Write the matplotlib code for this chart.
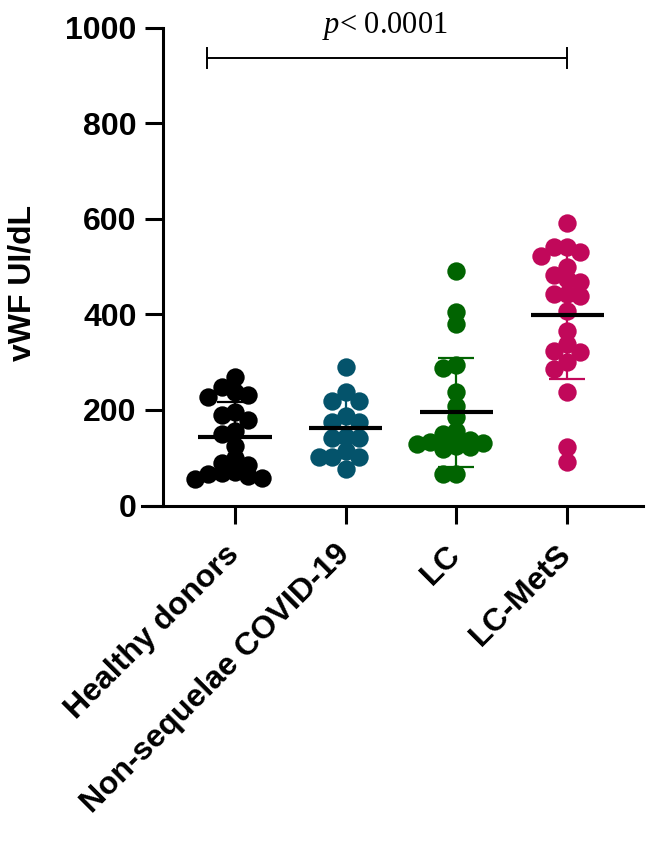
import numpy as np
import matplotlib
matplotlib.use("Agg")
import matplotlib.pyplot as plt

plt.rcParams["font.family"] = ["Liberation Sans", "DejaVu Sans"]
plt.rcParams["font.weight"] = "bold"
plt.rcParams["mathtext.fontset"] = "custom"
plt.rcParams["mathtext.rm"] = "Liberation Serif:normal"
plt.rcParams["mathtext.it"] = "Liberation Serif:italic:normal"

# ── data (vWF, UI/dL) ─────────────────────────────────────────────────────────
groups = ["Healthy donors", "Non-sequelae COVID-19", "LC", "LC-MetS"]
colors = ["#000000", "#04536B", "#016401", "#C1085A"]

healthy = [269, 248, 237, 232, 228, 195, 190, 180, 155, 150,
           125, 100, 90, 85, 70, 68, 62, 58, 56, 65]
non_sequelae = [290, 237, 219, 219, 188, 175, 174, 144, 142, 142,
                115, 102, 102, 102, 77]
lc = [490, 404, 379, 295, 288, 237, 208, 185, 156, 150, 140,
      138, 135, 133, 130, 125, 122, 118, 128, 67, 65]
lc_mets = [592, 540, 540, 531, 521, 500, 483, 473, 467, 442, 442,
           438, 406, 365, 338, 321, 323, 300, 285, 237, 123, 92]
values = [healthy, non_sequelae, lc, lc_mets]

p_label = "$p$< 0.0001"


def swarm_offsets(vals, step=0.12, min_dy=22.0):
    """Column-based swarm: place each point in the nearest free column."""
    order = np.argsort(vals)[::-1]
    placed = {}
    offs = np.zeros(len(vals))
    for i in order:
        v = vals[i]
        for k in [0, -1, 1, -2, 2, -3, 3, -4, 4]:
            col = placed.setdefault(k, [])
            if all(abs(v - u) >= min_dy for u in col):
                col.append(v)
                offs[i] = k * step
                break
    return offs


fig = plt.figure(figsize=(6.62, 8.44), dpi=100)
ax = fig.add_axes([0.2145, 0.401, 0.7568, 0.5664])

# LC has a tight cluster near 130, so its dots are packed more closely
packing = [22, 22, 14, 22]

for i, (vals, c) in enumerate(zip(values, colors)):
    vals = np.asarray(vals, dtype=float)
    x = i + swarm_offsets(vals, min_dy=packing[i])
    ax.scatter(x, vals, s=175, color=c, linewidths=0, zorder=3, clip_on=False)
    m, sd = vals.mean(), vals.std(ddof=1)
    ax.errorbar(i, m, yerr=sd, color=c, elinewidth=1.6, capsize=13,
                capthick=1.6, fmt="none", zorder=4)
    ax.hlines(m, i - 0.33, i + 0.33, color="black", linewidth=3, zorder=5)

# significance bracket
ax.plot([-0.253, 3.0], [936, 936], color="black", lw=1.4, clip_on=False)
for xe in (-0.253, 3.0):
    ax.plot([xe, xe], [915, 957], color="black", lw=1.4, clip_on=False)
ax.text(1.355, 988, p_label, ha="center", va="baseline", fontsize=22,
        family="Liberation Serif", fontweight="normal")

# ── axes styling (GraphPad look) ─────────────────────────────────────────────
ax.set_xlim(-0.84, 3.685)
ax.set_ylim(0, 1000)
for s in ("top", "right"):
    ax.spines[s].set_visible(False)
ax.spines["left"].set_position(("data", -0.65))
ax.spines["left"].set_bounds(0, 1000)
ax.spines["left"].set_linewidth(2.2)
ax.spines["bottom"].set_bounds(-0.84, 3.685)
ax.spines["bottom"].set_linewidth(2.2)

ax.set_yticks([0, 200, 400, 600, 800, 1000])
ax.set_xticks(range(len(groups)))
ax.set_xticklabels(groups, rotation=45, ha="right", va="center",
                   rotation_mode="anchor")
ax.tick_params(axis="both", direction="out", length=13, width=2.2,
               labelsize=23)
ax.tick_params(axis="y", pad=6)
ax.tick_params(axis="x", pad=19)

fig.text(23 / 662, 1 - 283 / 844, "vWF UI/dL", rotation=90, ha="center",
         va="center", fontsize=23, fontweight="bold")

fig.savefig("out.png", dpi=100, facecolor="white")
